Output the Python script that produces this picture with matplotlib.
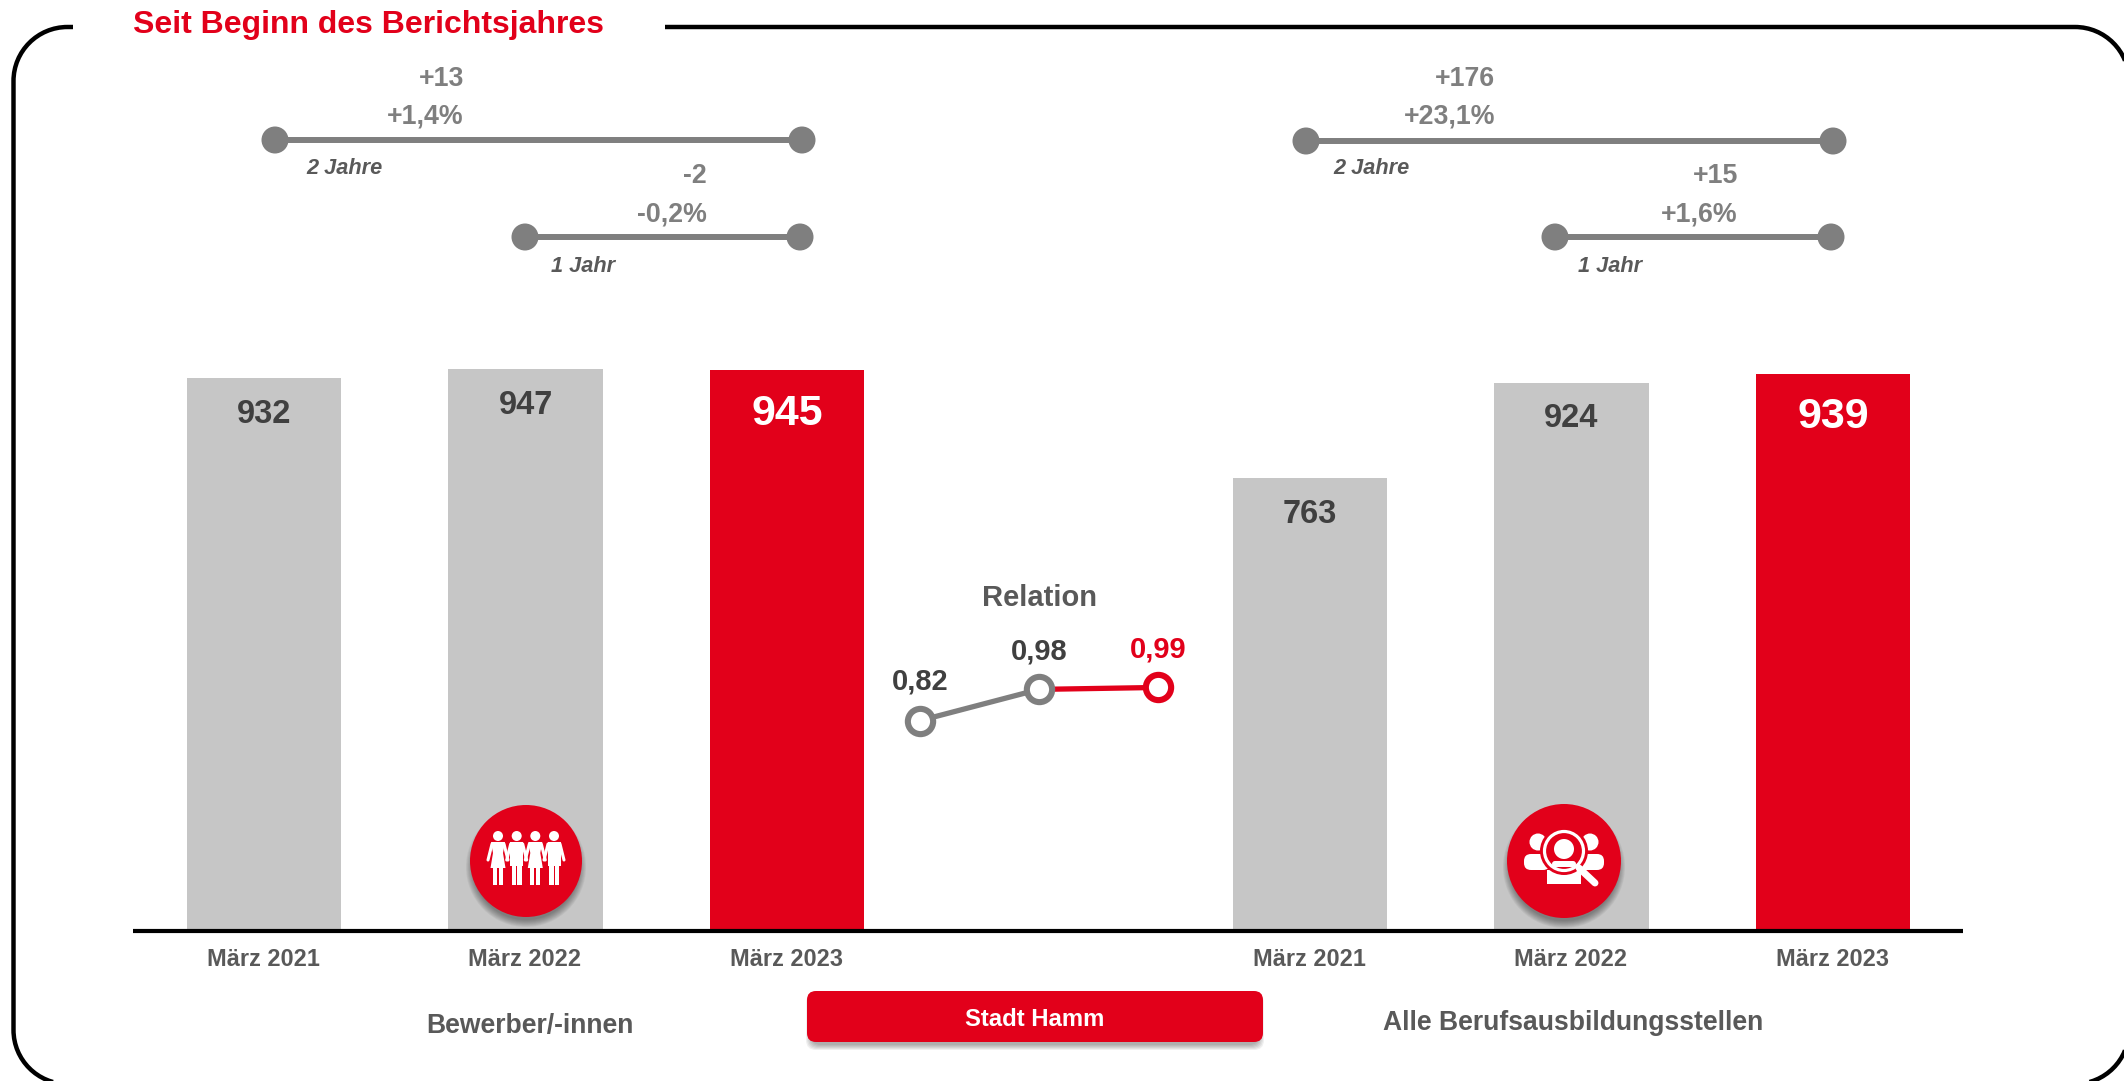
import matplotlib
matplotlib.use('Agg')
import matplotlib.pyplot as plt
from matplotlib.patches import Circle, FancyBboxPatch, Polygon, Rectangle
from matplotlib.path import Path
from matplotlib.transforms import ScaledTranslation

plt.rcParams['font.family'] = ['Liberation Sans', 'DejaVu Sans']
plt.rcParams['font.weight'] = 'bold'

# Data
positions = [0, 1, 2, 4, 5, 6]
months = ['März 2021', 'März 2022', 'März 2023', 'März 2021', 'März 2022', 'März 2023']
values = [932, 947, 945, 763, 924, 939]
value_labels = ['932', '947', '945', '763', '924', '939']

relation_x = [0, 1, 2]
relation_values = [0.82, 0.98, 0.99]
relation_labels = ['0,82', '0,98', '0,99']

# Colours
red = '#E2001A'
light_grey = '#C6C6C6'
mid_grey = '#7F7F7F'
text_grey = '#595959'
dark_grey = '#404040'

W, H = 2124, 1081
fig = plt.figure(figsize=(W / 100, H / 100), dpi=100, facecolor='white')


def px_axes(x0, x1, y_top, y_bottom):
    return fig.add_axes([x0 / W, 1 - y_bottom / H, (x1 - x0) / W, (y_bottom - y_top) / H])


# Bars
ax = px_axes(133, 1963, 350, 931)
bar_colors = [light_grey, light_grey, red, light_grey, light_grey, red]
ax.bar(positions, values, width=0.591, color=bar_colors, zorder=2)
ax.set_xlim(-0.501, 6.497)
ax.set_ylim(0, 979)
ax.set_yticks([])
ax.set_xticks(positions)
ax.set_xticklabels(months, fontsize=16.9, color=text_grey, fontweight='bold')
ax.tick_params(axis='x', length=0, pad=12.5)
shift = ScaledTranslation(-0.01, 0, fig.dpi_scale_trans)
for lbl in ax.get_xticklabels():
    lbl.set_transform(lbl.get_transform() + shift)
for s in ['top', 'left', 'right']:
    ax.spines[s].set_visible(False)
ax.spines['bottom'].set_linewidth(3)
ax.spines['bottom'].set_color('black')
ax.spines['bottom'].set_capstyle('butt')
ax.spines['bottom'].set_zorder(5)
ax.patch.set_alpha(0)

for p, v, lab, col in zip(positions, values, value_labels, bar_colors):
    is_red = col == red
    ax.annotate(lab, (p, v), xytext=(0, -31.5 if is_red else -26), textcoords='offset points',
                ha='center', va='center', fontweight='bold',
                fontsize=31 if is_red else 23.5, color='white' if is_red else dark_grey, zorder=6)

# Overlay in pixel coordinates for frame, connectors, icons and loose text
ov = fig.add_axes([0, 0, 1, 1], zorder=3)
ov.set_xlim(0, W)
ov.set_ylim(H, 0)
ov.axis('off')
ov.patch.set_alpha(0)

# Rounded frame, open behind the title, runs past the right and bottom edge
left, right, top, bottom = 13.5, 2129, 27, 1084
r, k = 54, 54 * 0.4477
verts = [(665, top), (right - r, top),
         (right - k, top), (right, top + k), (right, top + r),
         (right, bottom - r),
         (right, bottom - k), (right - k, bottom), (right - r, bottom),
         (left + r, bottom),
         (left + k, bottom), (left, bottom - k), (left, bottom - r),
         (left, top + r),
         (left, top + k), (left + k, top), (left + r, top),
         (73, top)]
codes = [Path.MOVETO, Path.LINETO,
         Path.CURVE4, Path.CURVE4, Path.CURVE4,
         Path.LINETO,
         Path.CURVE4, Path.CURVE4, Path.CURVE4,
         Path.LINETO,
         Path.CURVE4, Path.CURVE4, Path.CURVE4,
         Path.LINETO,
         Path.CURVE4, Path.CURVE4, Path.CURVE4,
         Path.LINETO]
# curves with points outside the canvas get mangled by the clipper, so flatten them first
frame_xy = Path(verts, codes).to_polygons(closed_only=False)[0]
ov.plot(frame_xy[:, 0], frame_xy[:, 1], color='black', lw=3.2, solid_capstyle='butt', zorder=1)

ov.text(133, 25.5, 'Seit Beginn des Berichtsjahres', color=red, fontsize=23,
        fontweight='bold', ha='left', va='center')


# Connector lines with the change labels
def connector(x0, x1, y, top_label, pct, period, x_right, y_top, y_pct, x_period, y_period):
    ov.plot([x0, x1], [y, y], color=mid_grey, lw=4.3, solid_capstyle='butt', zorder=2)
    for x in [x0, x1]:
        ov.add_patch(Circle((x, y), 13.5, fc=mid_grey, ec='none', zorder=3))
    ov.text(x_right, y_top, top_label, color=mid_grey, fontsize=19.3, ha='right', va='center')
    ov.text(x_right, y_pct, pct, color=mid_grey, fontsize=19.3, ha='right', va='center')
    ov.text(x_period, y_period, period, color=text_grey, fontsize=15.7, style='italic',
            ha='left', va='center')


connector(275, 802, 140, '+13', '+1,4%', '2 Jahre', 464, 79, 116, 306, 168)
connector(525, 800, 237, '-2', '-0,2%', '1 Jahr', 707, 176, 214, 551, 266)
connector(1306, 1833, 141, '+176', '+23,1%', '2 Jahre', 1495, 79, 116, 1333, 168)
connector(1555, 1831, 237, '+15', '+1,6%', '1 Jahr', 1738, 176, 214, 1578, 266)

# Relation line
ax_rel = px_axes(920 - 119, 1158 + 119, 666, 744)
ax_rel.set_xlim(-1, 3)
ax_rel.set_ylim(0.7, 1.1)
ax_rel.axis('off')
ax_rel.patch.set_alpha(0)
ax_rel.set_zorder(4)
ax_rel.plot(relation_x[:2], relation_values[:2], color=mid_grey, lw=3.8, zorder=2)
ax_rel.plot(relation_x[1:], relation_values[1:], color=red, lw=3.8, zorder=2)
rel_colors = [mid_grey, mid_grey, red]
label_offsets = [28, 27, 27]
for x, v, lab, c, off in zip(relation_x, relation_values, relation_labels, rel_colors, label_offsets):
    ax_rel.plot([x], [v], 'o', ms=18.2, mfc='white', mec=c, mew=4.4, zorder=3)
    ax_rel.annotate(lab, (x, v), xytext=(0, off), textcoords='offset points', ha='center', va='center',
                    fontsize=21, fontweight='bold', color=red if c == red else dark_grey,
                    annotation_clip=False)
ov.text(1039, 598, 'Relation', color=text_grey, fontsize=21, ha='center', va='center')

# Group captions
ov.text(530, 1026, 'Bewerber/-innen', color=text_grey, fontsize=19.1, ha='center', va='center')
ov.text(1573, 1023, 'Alle Berufsausbildungsstellen', color=text_grey, fontsize=19.1,
        ha='center', va='center')

# Button with soft shadow
for i in range(6):
    ov.add_patch(FancyBboxPatch((811 - i, 998 - i), 448 + 2 * i, 47 + 2 * i,
                                boxstyle='round,pad=0,rounding_size=10', fc='black', ec='none',
                                alpha=0.06, zorder=2))
ov.add_patch(FancyBboxPatch((807, 991), 456, 51, boxstyle='round,pad=0,rounding_size=9',
                            fc=red, ec='none', zorder=3))
ov.text(1035, 1019.5, 'Stadt Hamm', color='white', fontsize=17.2, ha='center', va='center', zorder=4)


def badge(cx, cy, rad):
    for i in range(8):
        ov.add_patch(Circle((cx, cy + 6), rad + 4 - i, fc='black', ec='none', alpha=0.05, zorder=2))
    ov.add_patch(Circle((cx, cy), rad, fc=red, ec='none', zorder=3))


def rounded_line(p0, p1, lw, color='white', z=4):
    ov.plot([p0[0], p1[0]], [p0[1], p1[1]], color=color, lw=lw, solid_capstyle='round', zorder=z)


# People icon
cx, cy = 526, 861
badge(cx, cy, 56)
for k_p, dx in enumerate([-28, -9.3, 9.3, 28]):
    x = cx + dx
    ov.add_patch(Circle((x, cy - 25), 5, fc='white', ec='none', zorder=4))
    if k_p % 2 == 0:
        # dress
        ov.add_patch(Polygon([(x - 7, cy - 19), (x + 7, cy - 19), (x + 5, cy - 8), (x + 7.5, cy + 7),
                              (x - 7.5, cy + 7), (x - 5, cy - 8)], fc='white', ec='none', zorder=4))
        ov.add_patch(Rectangle((x - 5, cy + 7), 4, 17, fc='white', ec='none', zorder=4))
        ov.add_patch(Rectangle((x + 1, cy + 7), 4, 17, fc='white', ec='none', zorder=4))
    else:
        ov.add_patch(Rectangle((x - 6.5, cy - 19), 13, 24, fc='white', ec='none', zorder=4))
        ov.add_patch(Rectangle((x - 5, cy + 5), 4.5, 19, fc='white', ec='none', zorder=4))
        ov.add_patch(Rectangle((x + 0.5, cy + 5), 4.5, 19, fc='white', ec='none', zorder=4))
    rounded_line((x - 6, cy - 17), (x - 10, cy - 1), 2.2)
    rounded_line((x + 6, cy - 17), (x + 10, cy - 1), 2.2)

# Search icon
cx, cy = 1564, 861
badge(cx, cy, 57)
for dx, x0, x1 in [(-26, -40, -14), (26, 14, 40)]:
    ov.add_patch(Circle((cx + dx, cy - 19), 8.5, fc='white', ec='none', zorder=4))
    ov.add_patch(FancyBboxPatch((cx + x0, cy - 7), x1 - x0, 16, boxstyle='round,pad=0,rounding_size=7',
                                fc='white', ec='none', zorder=4))
ov.add_patch(Polygon([(cx - 17, cy + 9), (cx + 17, cy + 9), (cx + 17, cy + 23), (cx - 17, cy + 23)],
                     fc='white', ec='none', zorder=4))
ov.add_patch(Circle((cx, cy - 10), 24, fc=red, ec='none', zorder=5))
ov.add_patch(Circle((cx, cy - 10), 19.5, fc=red, ec='white', lw=2.3, zorder=6))
ov.add_patch(Circle((cx, cy - 12), 10, fc='white', ec='none', zorder=7))
ov.add_patch(FancyBboxPatch((cx - 12, cy + 0), 24, 6, boxstyle='round,pad=0,rounding_size=3',
                            fc='white', ec='none', zorder=7))
rounded_line((cx + 15, cy + 7), (cx + 31, cy + 22), 5, z=8)

fig.savefig('out.png', dpi=100)
